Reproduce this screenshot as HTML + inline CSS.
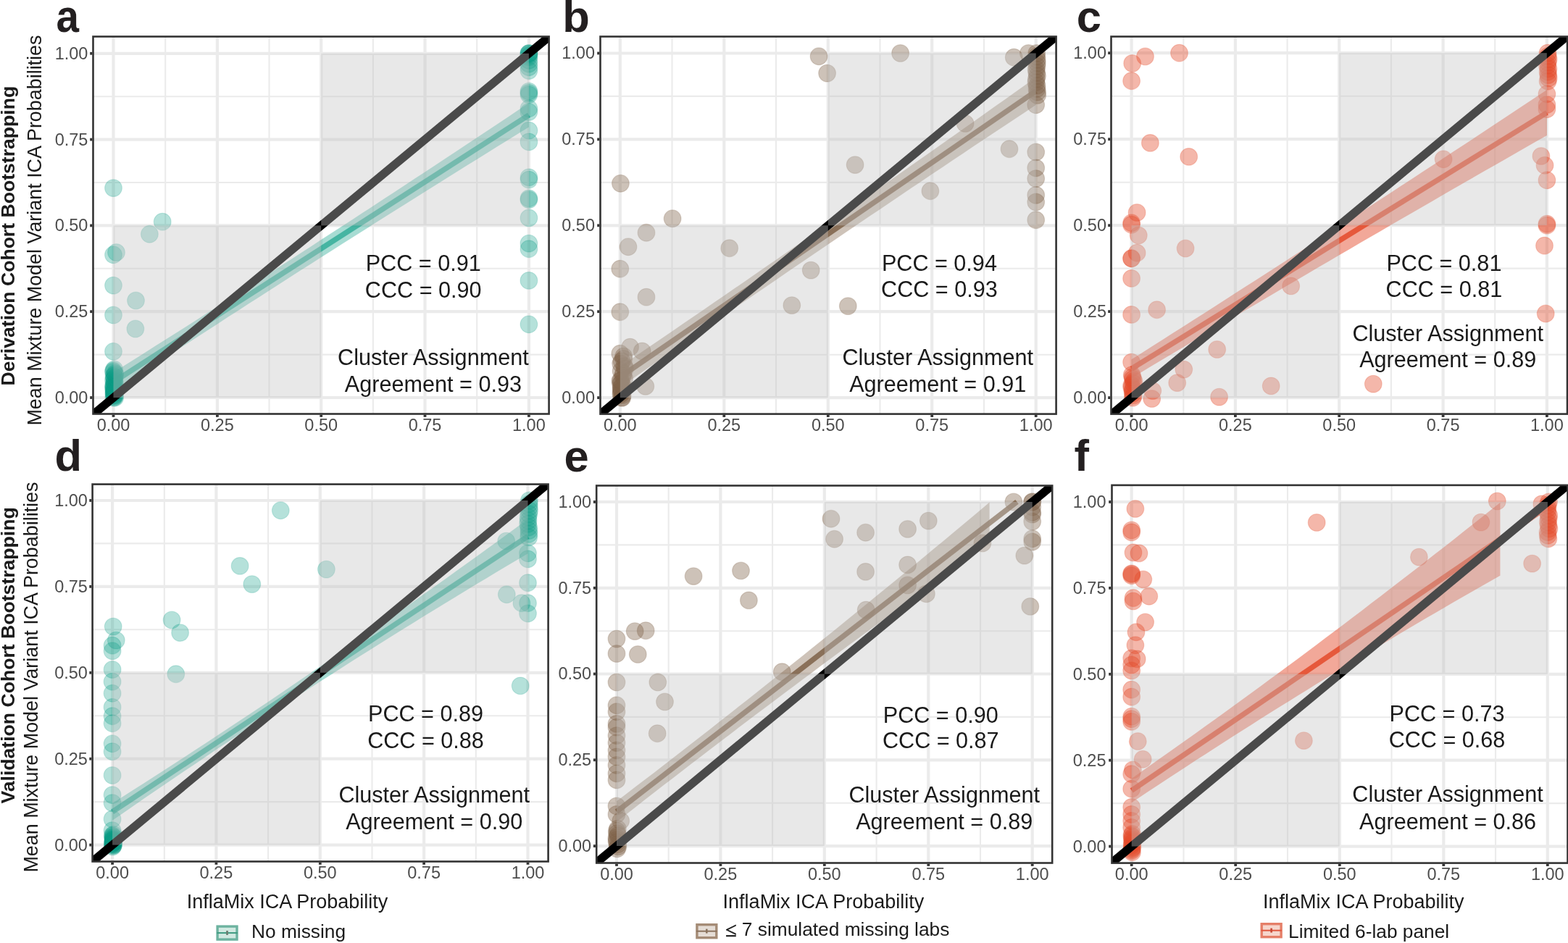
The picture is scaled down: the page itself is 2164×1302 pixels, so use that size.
<!DOCTYPE html><html><head><meta charset="utf-8"><style>html,body{margin:0;padding:0;background:#fff;overflow:hidden;}svg{display:block;}text{font-family:"Liberation Sans",Arial,Helvetica,sans-serif;}</style></head><body>
<svg width="2164" height="1302" viewBox="0 0 2164 1302">
<rect width="100%" height="100%" fill="#fff"/>
<defs>
<clipPath id="cpa"><rect x="128.5" y="50.5" width="629.1" height="521.0"/></clipPath>
<clipPath id="cpb"><rect x="828.5" y="50.5" width="629.0999999999999" height="521.1"/></clipPath>
<clipPath id="cpc"><rect x="1533.5" y="50.5" width="629.5" height="521.1"/></clipPath>
<clipPath id="cpd"><rect x="127.6" y="668.6" width="629.0" height="520.9"/></clipPath>
<clipPath id="cpe"><rect x="823.2" y="670.5" width="629.0" height="521.0"/></clipPath>
<clipPath id="cpf"><rect x="1534.5" y="669.9" width="629.0" height="521.6999999999999"/></clipPath>
</defs>
<g clip-path="url(#cpa)">
<line x1="128.5" x2="757.6" y1="489.6" y2="489.6" stroke="#EBEBEB" stroke-width="2.1"/>
<line y1="50.5" y2="571.5" x1="228.2" x2="228.2" stroke="#EBEBEB" stroke-width="2.1"/>
<line x1="128.5" x2="757.6" y1="370.8" y2="370.8" stroke="#EBEBEB" stroke-width="2.1"/>
<line y1="50.5" y2="571.5" x1="371.5" x2="371.5" stroke="#EBEBEB" stroke-width="2.1"/>
<line x1="128.5" x2="757.6" y1="252.0" y2="252.0" stroke="#EBEBEB" stroke-width="2.1"/>
<line y1="50.5" y2="571.5" x1="514.9" x2="514.9" stroke="#EBEBEB" stroke-width="2.1"/>
<line x1="128.5" x2="757.6" y1="133.2" y2="133.2" stroke="#EBEBEB" stroke-width="2.1"/>
<line y1="50.5" y2="571.5" x1="658.2" x2="658.2" stroke="#EBEBEB" stroke-width="2.1"/>
<line x1="128.5" x2="757.6" y1="549.0" y2="549.0" stroke="#EBEBEB" stroke-width="4.2"/>
<line y1="50.5" y2="571.5" x1="156.5" x2="156.5" stroke="#EBEBEB" stroke-width="4.2"/>
<line x1="128.5" x2="757.6" y1="430.2" y2="430.2" stroke="#EBEBEB" stroke-width="4.2"/>
<line y1="50.5" y2="571.5" x1="299.9" x2="299.9" stroke="#EBEBEB" stroke-width="4.2"/>
<line x1="128.5" x2="757.6" y1="311.4" y2="311.4" stroke="#EBEBEB" stroke-width="4.2"/>
<line y1="50.5" y2="571.5" x1="443.2" x2="443.2" stroke="#EBEBEB" stroke-width="4.2"/>
<line x1="128.5" x2="757.6" y1="192.6" y2="192.6" stroke="#EBEBEB" stroke-width="4.2"/>
<line y1="50.5" y2="571.5" x1="586.5" x2="586.5" stroke="#EBEBEB" stroke-width="4.2"/>
<line x1="128.5" x2="757.6" y1="73.8" y2="73.8" stroke="#EBEBEB" stroke-width="4.2"/>
<line y1="50.5" y2="571.5" x1="729.9" x2="729.9" stroke="#EBEBEB" stroke-width="4.2"/>
<g fill="#0A9D84" fill-opacity="0.3" stroke="#0A9D84" stroke-opacity="0.180" stroke-width="1.2">
<circle cx="156.5" cy="259.6" r="11.85"/>
<circle cx="156.5" cy="351.8" r="11.85"/>
<circle cx="156.5" cy="394.1" r="11.85"/>
<circle cx="156.5" cy="435.0" r="11.85"/>
<circle cx="156.5" cy="485.3" r="11.85"/>
<circle cx="160.5" cy="348.5" r="11.85"/>
<circle cx="156.8" cy="549.0" r="11.85"/>
<circle cx="158.4" cy="547.1" r="11.85"/>
<circle cx="158.3" cy="545.3" r="11.85"/>
<circle cx="157.1" cy="543.4" r="11.85"/>
<circle cx="157.6" cy="541.6" r="11.85"/>
<circle cx="157.5" cy="539.7" r="11.85"/>
<circle cx="158.0" cy="537.9" r="11.85"/>
<circle cx="158.3" cy="536.0" r="11.85"/>
<circle cx="156.7" cy="534.2" r="11.85"/>
<circle cx="156.6" cy="532.3" r="11.85"/>
<circle cx="158.4" cy="530.4" r="11.85"/>
<circle cx="157.5" cy="528.6" r="11.85"/>
<circle cx="158.2" cy="526.7" r="11.85"/>
<circle cx="156.5" cy="524.9" r="11.85"/>
<circle cx="157.5" cy="523.0" r="11.85"/>
<circle cx="158.2" cy="521.2" r="11.85"/>
<circle cx="157.0" cy="519.3" r="11.85"/>
<circle cx="158.7" cy="517.5" r="11.85"/>
<circle cx="158.6" cy="515.6" r="11.85"/>
<circle cx="156.6" cy="513.7" r="11.85"/>
<circle cx="156.6" cy="511.9" r="11.85"/>
<circle cx="157.7" cy="510.0" r="11.85"/>
<circle cx="158.7" cy="549.0" r="11.85"/>
<circle cx="157.4" cy="546.1" r="11.85"/>
<circle cx="157.0" cy="543.3" r="11.85"/>
<circle cx="157.5" cy="540.4" r="11.85"/>
<circle cx="156.6" cy="537.6" r="11.85"/>
<circle cx="157.0" cy="534.7" r="11.85"/>
<circle cx="224.2" cy="306.2" r="11.85"/>
<circle cx="206.4" cy="323.3" r="11.85"/>
<circle cx="187.5" cy="415.0" r="11.85"/>
<circle cx="186.9" cy="454.0" r="11.85"/>
<circle cx="729.9" cy="73.8" r="11.85"/>
<circle cx="729.9" cy="73.8" r="11.85"/>
<circle cx="729.9" cy="73.8" r="11.85"/>
<circle cx="729.9" cy="76.2" r="11.85"/>
<circle cx="729.9" cy="78.6" r="11.85"/>
<circle cx="729.9" cy="83.3" r="11.85"/>
<circle cx="729.9" cy="88.1" r="11.85"/>
<circle cx="729.9" cy="92.8" r="11.85"/>
<circle cx="729.9" cy="97.6" r="11.85"/>
<circle cx="729.9" cy="126.1" r="11.85"/>
<circle cx="729.9" cy="128.4" r="11.85"/>
<circle cx="729.9" cy="130.8" r="11.85"/>
<circle cx="729.9" cy="149.8" r="11.85"/>
<circle cx="729.9" cy="154.6" r="11.85"/>
<circle cx="729.9" cy="180.2" r="11.85"/>
<circle cx="729.9" cy="195.9" r="11.85"/>
<circle cx="729.9" cy="244.9" r="11.85"/>
<circle cx="729.9" cy="248.2" r="11.85"/>
<circle cx="729.9" cy="273.9" r="11.85"/>
<circle cx="729.9" cy="275.8" r="11.85"/>
<circle cx="729.9" cy="300.9" r="11.85"/>
<circle cx="729.9" cy="336.1" r="11.85"/>
<circle cx="729.9" cy="343.7" r="11.85"/>
<circle cx="729.9" cy="387.4" r="11.85"/>
<circle cx="729.9" cy="447.8" r="11.85"/>
</g>
<path d="M156.5,514.3 L170.8,505.3 L185.2,496.3 L199.5,487.2 L213.8,478.1 L228.2,469.1 L242.5,460.0 L256.8,450.9 L271.2,441.7 L285.5,432.6 L299.9,423.4 L314.2,414.3 L328.5,405.1 L342.9,395.9 L357.2,386.7 L371.5,377.5 L385.9,368.2 L400.2,359.0 L414.5,349.7 L428.9,340.4 L443.2,331.1 L457.5,321.8 L471.9,312.5 L486.2,303.2 L500.5,293.8 L514.9,284.5 L529.2,275.1 L543.5,265.7 L557.9,256.3 L572.2,246.8 L586.5,237.4 L600.9,227.9 L615.2,218.5 L629.6,209.0 L643.9,199.5 L658.2,190.0 L672.6,180.5 L686.9,170.9 L701.2,161.4 L715.6,151.8 L729.9,142.2 L729.9,175.5 L715.6,184.3 L701.2,193.2 L686.9,202.1 L672.6,211.0 L658.2,219.9 L643.9,228.8 L629.6,237.8 L615.2,246.7 L600.9,255.7 L586.5,264.7 L572.2,273.7 L557.9,282.7 L543.5,291.7 L529.2,300.8 L514.9,309.8 L500.5,318.9 L486.2,328.0 L471.9,337.1 L457.5,346.2 L443.2,355.3 L428.9,364.5 L414.5,373.6 L400.2,382.8 L385.9,392.0 L371.5,401.2 L357.2,410.4 L342.9,419.6 L328.5,428.9 L314.2,438.1 L299.9,447.4 L285.5,456.7 L271.2,466.0 L256.8,475.3 L242.5,484.6 L228.2,494.0 L213.8,503.3 L199.5,512.7 L185.2,522.1 L170.8,531.5 L156.5,540.9Z" fill="#0A9D84" fill-opacity="0.36"/>
<line x1="156.5" y1="527.6" x2="729.9" y2="158.9" stroke="#0A9D84" stroke-opacity="0.62" stroke-width="7.3"/>
<line x1="99.2" y1="596.5" x2="787.2" y2="26.3" stroke="#000" stroke-width="11.5"/>
<rect x="156.5" y="311.4" width="286.7" height="237.6" fill="#C2C2C2" fill-opacity="0.38"/>
<rect x="443.2" y="73.8" width="286.7" height="237.6" fill="#C2C2C2" fill-opacity="0.38"/>
</g>
<g font-size="30.6" fill="#1A1A1A" text-anchor="middle">
<text x="584.2" y="373.9">PCC = 0.91</text>
<text x="584.2" y="411.0">CCC = 0.90</text>
<text x="597.9" y="503.7">Cluster Assignment</text>
<text x="597.9" y="540.8">Agreement = 0.93</text>
</g>
<rect x="128.5" y="50.5" width="629.1" height="521.0" fill="none" stroke="#333" stroke-width="2.6"/>
<line x1="156.5" x2="156.5" y1="572.8" y2="575.8" stroke="#333" stroke-width="3.8"/>
<line y1="549.0" y2="549.0" x1="124.2" x2="127.2" stroke="#333" stroke-width="3.8"/>
<line x1="299.9" x2="299.9" y1="572.8" y2="575.8" stroke="#333" stroke-width="3.8"/>
<line y1="430.2" y2="430.2" x1="124.2" x2="127.2" stroke="#333" stroke-width="3.8"/>
<line x1="443.2" x2="443.2" y1="572.8" y2="575.8" stroke="#333" stroke-width="3.8"/>
<line y1="311.4" y2="311.4" x1="124.2" x2="127.2" stroke="#333" stroke-width="3.8"/>
<line x1="586.5" x2="586.5" y1="572.8" y2="575.8" stroke="#333" stroke-width="3.8"/>
<line y1="192.6" y2="192.6" x1="124.2" x2="127.2" stroke="#333" stroke-width="3.8"/>
<line x1="729.9" x2="729.9" y1="572.8" y2="575.8" stroke="#333" stroke-width="3.8"/>
<line y1="73.8" y2="73.8" x1="124.2" x2="127.2" stroke="#333" stroke-width="3.8"/>
<g font-size="23.5" fill="#4D4D4D">
<text x="156.5" y="594.7" text-anchor="middle">0.00</text>
<text x="121.4" y="556.9" text-anchor="end">0.00</text>
<text x="299.9" y="594.7" text-anchor="middle">0.25</text>
<text x="121.4" y="438.1" text-anchor="end">0.25</text>
<text x="443.2" y="594.7" text-anchor="middle">0.50</text>
<text x="121.4" y="319.3" text-anchor="end">0.50</text>
<text x="586.5" y="594.7" text-anchor="middle">0.75</text>
<text x="121.4" y="200.5" text-anchor="end">0.75</text>
<text x="729.9" y="594.7" text-anchor="middle">1.00</text>
<text x="121.4" y="81.7" text-anchor="end">1.00</text>
</g>
<text transform="translate(77.4,44.2) scale(0.92,1.02)" font-size="61.5" font-weight="bold" fill="#231F20">a</text>
<g clip-path="url(#cpb)">
<line x1="828.5" x2="1457.6" y1="489.7" y2="489.7" stroke="#EBEBEB" stroke-width="2.1"/>
<line y1="50.5" y2="571.6" x1="927.5" x2="927.5" stroke="#EBEBEB" stroke-width="2.1"/>
<line x1="828.5" x2="1457.6" y1="370.8" y2="370.8" stroke="#EBEBEB" stroke-width="2.1"/>
<line y1="50.5" y2="571.6" x1="1071.0" x2="1071.0" stroke="#EBEBEB" stroke-width="2.1"/>
<line x1="828.5" x2="1457.6" y1="251.9" y2="251.9" stroke="#EBEBEB" stroke-width="2.1"/>
<line y1="50.5" y2="571.6" x1="1214.5" x2="1214.5" stroke="#EBEBEB" stroke-width="2.1"/>
<line x1="828.5" x2="1457.6" y1="132.9" y2="132.9" stroke="#EBEBEB" stroke-width="2.1"/>
<line y1="50.5" y2="571.6" x1="1358.0" x2="1358.0" stroke="#EBEBEB" stroke-width="2.1"/>
<line x1="828.5" x2="1457.6" y1="549.1" y2="549.1" stroke="#EBEBEB" stroke-width="4.2"/>
<line y1="50.5" y2="571.6" x1="855.8" x2="855.8" stroke="#EBEBEB" stroke-width="4.2"/>
<line x1="828.5" x2="1457.6" y1="430.2" y2="430.2" stroke="#EBEBEB" stroke-width="4.2"/>
<line y1="50.5" y2="571.6" x1="999.3" x2="999.3" stroke="#EBEBEB" stroke-width="4.2"/>
<line x1="828.5" x2="1457.6" y1="311.3" y2="311.3" stroke="#EBEBEB" stroke-width="4.2"/>
<line y1="50.5" y2="571.6" x1="1142.8" x2="1142.8" stroke="#EBEBEB" stroke-width="4.2"/>
<line x1="828.5" x2="1457.6" y1="192.4" y2="192.4" stroke="#EBEBEB" stroke-width="4.2"/>
<line y1="50.5" y2="571.6" x1="1286.2" x2="1286.2" stroke="#EBEBEB" stroke-width="4.2"/>
<line x1="828.5" x2="1457.6" y1="73.5" y2="73.5" stroke="#EBEBEB" stroke-width="4.2"/>
<line y1="50.5" y2="571.6" x1="1429.7" x2="1429.7" stroke="#EBEBEB" stroke-width="4.2"/>
<g fill="#7E6148" fill-opacity="0.39" stroke="#7E6148" stroke-opacity="0.234" stroke-width="1.2">
<circle cx="858.8" cy="549.1" r="11.85"/>
<circle cx="859.2" cy="545.7" r="11.85"/>
<circle cx="857.4" cy="542.4" r="11.85"/>
<circle cx="857.4" cy="539.0" r="11.85"/>
<circle cx="857.3" cy="535.7" r="11.85"/>
<circle cx="859.0" cy="532.3" r="11.85"/>
<circle cx="857.8" cy="529.0" r="11.85"/>
<circle cx="855.9" cy="525.6" r="11.85"/>
<circle cx="861.6" cy="522.2" r="11.85"/>
<circle cx="859.6" cy="518.9" r="11.85"/>
<circle cx="860.2" cy="515.5" r="11.85"/>
<circle cx="857.1" cy="512.2" r="11.85"/>
<circle cx="862.6" cy="508.8" r="11.85"/>
<circle cx="861.7" cy="505.5" r="11.85"/>
<circle cx="856.6" cy="502.1" r="11.85"/>
<circle cx="858.1" cy="498.7" r="11.85"/>
<circle cx="860.8" cy="495.4" r="11.85"/>
<circle cx="860.7" cy="492.0" r="11.85"/>
<circle cx="857.9" cy="549.1" r="11.85"/>
<circle cx="856.8" cy="544.3" r="11.85"/>
<circle cx="857.7" cy="539.6" r="11.85"/>
<circle cx="857.3" cy="534.8" r="11.85"/>
<circle cx="856.5" cy="530.1" r="11.85"/>
<circle cx="857.1" cy="525.3" r="11.85"/>
<circle cx="855.8" cy="371.2" r="11.85"/>
<circle cx="855.8" cy="430.7" r="11.85"/>
<circle cx="855.8" cy="488.2" r="11.85"/>
<circle cx="856.4" cy="253.3" r="11.85"/>
<circle cx="928.1" cy="301.8" r="11.85"/>
<circle cx="892.0" cy="321.3" r="11.85"/>
<circle cx="867.0" cy="340.8" r="11.85"/>
<circle cx="892.0" cy="410.2" r="11.85"/>
<circle cx="1006.7" cy="342.7" r="11.85"/>
<circle cx="1119.2" cy="373.1" r="11.85"/>
<circle cx="1092.8" cy="421.6" r="11.85"/>
<circle cx="869.6" cy="479.2" r="11.85"/>
<circle cx="886.2" cy="484.9" r="11.85"/>
<circle cx="890.8" cy="533.4" r="11.85"/>
<circle cx="1170.3" cy="422.6" r="11.85"/>
<circle cx="1130.1" cy="77.8" r="11.85"/>
<circle cx="1141.6" cy="101.1" r="11.85"/>
<circle cx="1242.6" cy="73.5" r="11.85"/>
<circle cx="1399.3" cy="79.2" r="11.85"/>
<circle cx="1419.4" cy="73.5" r="11.85"/>
<circle cx="1332.1" cy="170.5" r="11.85"/>
<circle cx="1393.0" cy="205.7" r="11.85"/>
<circle cx="1180.1" cy="227.6" r="11.85"/>
<circle cx="1283.9" cy="263.7" r="11.85"/>
<circle cx="1431.7" cy="131.5" r="11.85"/>
<circle cx="1431.6" cy="127.1" r="11.85"/>
<circle cx="1430.9" cy="122.6" r="11.85"/>
<circle cx="1431.1" cy="118.1" r="11.85"/>
<circle cx="1429.8" cy="113.7" r="11.85"/>
<circle cx="1430.3" cy="109.2" r="11.85"/>
<circle cx="1431.5" cy="104.7" r="11.85"/>
<circle cx="1430.7" cy="100.3" r="11.85"/>
<circle cx="1430.1" cy="95.8" r="11.85"/>
<circle cx="1431.0" cy="91.4" r="11.85"/>
<circle cx="1431.3" cy="86.9" r="11.85"/>
<circle cx="1431.2" cy="82.4" r="11.85"/>
<circle cx="1430.6" cy="78.0" r="11.85"/>
<circle cx="1430.7" cy="73.5" r="11.85"/>
<circle cx="1429.7" cy="144.8" r="11.85"/>
<circle cx="1429.7" cy="210.0" r="11.85"/>
<circle cx="1429.7" cy="231.9" r="11.85"/>
<circle cx="1429.7" cy="246.6" r="11.85"/>
<circle cx="1429.7" cy="269.4" r="11.85"/>
<circle cx="1429.7" cy="279.0" r="11.85"/>
<circle cx="1429.7" cy="303.7" r="11.85"/>
</g>
<path d="M855.8,506.3 L870.1,496.5 L884.5,486.8 L898.8,477.0 L913.2,467.2 L927.5,457.4 L941.9,447.6 L956.2,437.8 L970.6,427.9 L984.9,418.1 L999.3,408.2 L1013.6,398.3 L1028.0,388.4 L1042.3,378.5 L1056.7,368.6 L1071.0,358.7 L1085.4,348.8 L1099.7,338.8 L1114.1,328.9 L1128.4,318.9 L1142.8,308.9 L1157.1,298.9 L1171.4,288.9 L1185.8,278.9 L1200.1,268.9 L1214.5,258.8 L1228.8,248.8 L1243.2,238.7 L1257.5,228.6 L1271.9,218.6 L1286.2,208.5 L1300.6,198.3 L1314.9,188.2 L1329.3,178.1 L1343.6,167.9 L1358.0,157.8 L1372.3,147.6 L1386.7,137.4 L1401.0,127.2 L1415.4,117.0 L1429.7,106.8 L1429.7,144.8 L1415.4,154.4 L1401.0,163.9 L1386.7,173.4 L1372.3,183.0 L1358.0,192.5 L1343.6,202.1 L1329.3,211.7 L1314.9,221.3 L1300.6,230.9 L1286.2,240.6 L1271.9,250.2 L1257.5,259.8 L1243.2,269.5 L1228.8,279.2 L1214.5,288.9 L1200.1,298.6 L1185.8,308.3 L1171.4,318.0 L1157.1,327.7 L1142.8,337.5 L1128.4,347.2 L1114.1,357.0 L1099.7,366.8 L1085.4,376.6 L1071.0,386.4 L1056.7,396.2 L1042.3,406.0 L1028.0,415.8 L1013.6,425.7 L999.3,435.6 L984.9,445.4 L970.6,455.3 L956.2,465.2 L941.9,475.1 L927.5,485.0 L913.2,495.0 L898.8,504.9 L884.5,514.9 L870.1,524.9 L855.8,534.8Z" fill="#7E6148" fill-opacity="0.38"/>
<line x1="855.8" y1="520.6" x2="1429.7" y2="125.8" stroke="#7E6148" stroke-opacity="0.85" stroke-width="7.3"/>
<line x1="798.4" y1="596.7" x2="1487.1" y2="25.9" stroke="#000" stroke-width="11.5"/>
<rect x="855.8" y="311.3" width="287.0" height="237.8" fill="#C2C2C2" fill-opacity="0.38"/>
<rect x="1142.8" y="73.5" width="286.9" height="237.8" fill="#C2C2C2" fill-opacity="0.38"/>
</g>
<g font-size="30.6" fill="#1A1A1A" text-anchor="middle">
<text x="1296.4" y="374.4">PCC = 0.94</text>
<text x="1296.4" y="409.8">CCC = 0.93</text>
<text x="1294.2" y="503.8">Cluster Assignment</text>
<text x="1294.2" y="540.8">Agreement = 0.91</text>
</g>
<rect x="828.5" y="50.5" width="629.1" height="521.1" fill="none" stroke="#333" stroke-width="2.6"/>
<line x1="855.8" x2="855.8" y1="572.9" y2="575.9" stroke="#333" stroke-width="3.8"/>
<line y1="549.1" y2="549.1" x1="824.2" x2="827.2" stroke="#333" stroke-width="3.8"/>
<line x1="999.3" x2="999.3" y1="572.9" y2="575.9" stroke="#333" stroke-width="3.8"/>
<line y1="430.2" y2="430.2" x1="824.2" x2="827.2" stroke="#333" stroke-width="3.8"/>
<line x1="1142.8" x2="1142.8" y1="572.9" y2="575.9" stroke="#333" stroke-width="3.8"/>
<line y1="311.3" y2="311.3" x1="824.2" x2="827.2" stroke="#333" stroke-width="3.8"/>
<line x1="1286.2" x2="1286.2" y1="572.9" y2="575.9" stroke="#333" stroke-width="3.8"/>
<line y1="192.4" y2="192.4" x1="824.2" x2="827.2" stroke="#333" stroke-width="3.8"/>
<line x1="1429.7" x2="1429.7" y1="572.9" y2="575.9" stroke="#333" stroke-width="3.8"/>
<line y1="73.5" y2="73.5" x1="824.2" x2="827.2" stroke="#333" stroke-width="3.8"/>
<g font-size="23.5" fill="#4D4D4D">
<text x="855.8" y="594.8" text-anchor="middle">0.00</text>
<text x="821.0" y="557.0" text-anchor="end">0.00</text>
<text x="999.3" y="594.8" text-anchor="middle">0.25</text>
<text x="821.0" y="438.1" text-anchor="end">0.25</text>
<text x="1142.8" y="594.8" text-anchor="middle">0.50</text>
<text x="821.0" y="319.2" text-anchor="end">0.50</text>
<text x="1286.2" y="594.8" text-anchor="middle">0.75</text>
<text x="821.0" y="200.3" text-anchor="end">0.75</text>
<text x="1429.7" y="594.8" text-anchor="middle">1.00</text>
<text x="821.0" y="81.4" text-anchor="end">1.00</text>
</g>
<text x="776.2" y="44.3" font-size="61.5" font-weight="bold" fill="#231F20">b</text>
<g clip-path="url(#cpc)">
<line x1="1533.5" x2="2163.0" y1="489.6" y2="489.6" stroke="#EBEBEB" stroke-width="2.1"/>
<line y1="50.5" y2="571.6" x1="1633.3" x2="1633.3" stroke="#EBEBEB" stroke-width="2.1"/>
<line x1="1533.5" x2="2163.0" y1="370.6" y2="370.6" stroke="#EBEBEB" stroke-width="2.1"/>
<line y1="50.5" y2="571.6" x1="1776.6" x2="1776.6" stroke="#EBEBEB" stroke-width="2.1"/>
<line x1="1533.5" x2="2163.0" y1="251.7" y2="251.7" stroke="#EBEBEB" stroke-width="2.1"/>
<line y1="50.5" y2="571.6" x1="1919.9" x2="1919.9" stroke="#EBEBEB" stroke-width="2.1"/>
<line x1="1533.5" x2="2163.0" y1="132.7" y2="132.7" stroke="#EBEBEB" stroke-width="2.1"/>
<line y1="50.5" y2="571.6" x1="2063.2" x2="2063.2" stroke="#EBEBEB" stroke-width="2.1"/>
<line x1="1533.5" x2="2163.0" y1="549.1" y2="549.1" stroke="#EBEBEB" stroke-width="4.2"/>
<line y1="50.5" y2="571.6" x1="1561.6" x2="1561.6" stroke="#EBEBEB" stroke-width="4.2"/>
<line x1="1533.5" x2="2163.0" y1="430.1" y2="430.1" stroke="#EBEBEB" stroke-width="4.2"/>
<line y1="50.5" y2="571.6" x1="1704.9" x2="1704.9" stroke="#EBEBEB" stroke-width="4.2"/>
<line x1="1533.5" x2="2163.0" y1="311.2" y2="311.2" stroke="#EBEBEB" stroke-width="4.2"/>
<line y1="50.5" y2="571.6" x1="1848.2" x2="1848.2" stroke="#EBEBEB" stroke-width="4.2"/>
<line x1="1533.5" x2="2163.0" y1="192.2" y2="192.2" stroke="#EBEBEB" stroke-width="4.2"/>
<line y1="50.5" y2="571.6" x1="1991.6" x2="1991.6" stroke="#EBEBEB" stroke-width="4.2"/>
<line x1="1533.5" x2="2163.0" y1="73.2" y2="73.2" stroke="#EBEBEB" stroke-width="4.2"/>
<line y1="50.5" y2="571.6" x1="2134.9" x2="2134.9" stroke="#EBEBEB" stroke-width="4.2"/>
<g fill="#E44A2A" fill-opacity="0.4" stroke="#E44A2A" stroke-opacity="0.240" stroke-width="1.2">
<circle cx="1562.7" cy="87.5" r="11.85"/>
<circle cx="1561.6" cy="111.7" r="11.85"/>
<circle cx="1561.6" cy="307.8" r="11.85"/>
<circle cx="1561.6" cy="310.2" r="11.85"/>
<circle cx="1569.1" cy="293.5" r="11.85"/>
<circle cx="1571.3" cy="325.0" r="11.85"/>
<circle cx="1569.1" cy="349.2" r="11.85"/>
<circle cx="1561.6" cy="356.8" r="11.85"/>
<circle cx="1561.6" cy="356.8" r="11.85"/>
<circle cx="1561.6" cy="384.4" r="11.85"/>
<circle cx="1561.6" cy="434.4" r="11.85"/>
<circle cx="1561.6" cy="500.1" r="11.85"/>
<circle cx="1563.3" cy="549.1" r="11.85"/>
<circle cx="1564.3" cy="546.2" r="11.85"/>
<circle cx="1563.4" cy="543.4" r="11.85"/>
<circle cx="1563.0" cy="540.5" r="11.85"/>
<circle cx="1563.3" cy="537.7" r="11.85"/>
<circle cx="1561.7" cy="534.8" r="11.85"/>
<circle cx="1561.7" cy="532.0" r="11.85"/>
<circle cx="1564.0" cy="529.1" r="11.85"/>
<circle cx="1565.0" cy="526.3" r="11.85"/>
<circle cx="1563.6" cy="523.4" r="11.85"/>
<circle cx="1563.0" cy="520.5" r="11.85"/>
<circle cx="1562.2" cy="517.7" r="11.85"/>
<circle cx="1580.5" cy="78.0" r="11.85"/>
<circle cx="1627.5" cy="73.2" r="11.85"/>
<circle cx="1587.4" cy="197.4" r="11.85"/>
<circle cx="1640.7" cy="216.4" r="11.85"/>
<circle cx="1596.6" cy="427.7" r="11.85"/>
<circle cx="1636.1" cy="343.0" r="11.85"/>
<circle cx="1781.7" cy="394.9" r="11.85"/>
<circle cx="1679.7" cy="482.5" r="11.85"/>
<circle cx="1633.8" cy="510.1" r="11.85"/>
<circle cx="1624.7" cy="528.6" r="11.85"/>
<circle cx="1682.6" cy="548.1" r="11.85"/>
<circle cx="1754.2" cy="532.9" r="11.85"/>
<circle cx="1590.8" cy="539.6" r="11.85"/>
<circle cx="1589.7" cy="550.5" r="11.85"/>
<circle cx="1895.3" cy="530.1" r="11.85"/>
<circle cx="1992.1" cy="219.8" r="11.85"/>
<circle cx="2136.1" cy="112.2" r="11.85"/>
<circle cx="2137.2" cy="107.9" r="11.85"/>
<circle cx="2136.7" cy="103.6" r="11.85"/>
<circle cx="2136.1" cy="99.2" r="11.85"/>
<circle cx="2136.9" cy="94.9" r="11.85"/>
<circle cx="2135.4" cy="90.5" r="11.85"/>
<circle cx="2136.1" cy="86.2" r="11.85"/>
<circle cx="2137.1" cy="81.9" r="11.85"/>
<circle cx="2136.2" cy="77.5" r="11.85"/>
<circle cx="2136.0" cy="73.2" r="11.85"/>
<circle cx="2134.9" cy="129.8" r="11.85"/>
<circle cx="2134.9" cy="144.6" r="11.85"/>
<circle cx="2134.9" cy="150.8" r="11.85"/>
<circle cx="2126.9" cy="215.5" r="11.85"/>
<circle cx="2132.0" cy="228.3" r="11.85"/>
<circle cx="2134.9" cy="248.8" r="11.85"/>
<circle cx="2134.9" cy="309.2" r="11.85"/>
<circle cx="2134.9" cy="311.2" r="11.85"/>
<circle cx="2131.5" cy="339.2" r="11.85"/>
<circle cx="2133.2" cy="433.0" r="11.85"/>
</g>
<path d="M1561.6,496.3 L1575.9,487.2 L1590.3,478.1 L1604.6,469.0 L1618.9,459.8 L1633.3,450.7 L1647.6,441.5 L1661.9,432.4 L1676.3,423.2 L1690.6,414.0 L1704.9,404.8 L1719.3,395.6 L1733.6,386.4 L1747.9,377.2 L1762.3,368.0 L1776.6,358.7 L1790.9,349.5 L1805.3,340.2 L1819.6,330.9 L1833.9,321.6 L1848.2,312.3 L1862.6,303.0 L1876.9,293.7 L1891.2,284.4 L1905.6,275.0 L1919.9,265.7 L1934.2,256.3 L1948.6,247.0 L1962.9,237.6 L1977.2,228.2 L1991.6,218.8 L2005.9,209.3 L2020.2,199.9 L2034.6,190.5 L2048.9,181.0 L2063.2,171.6 L2077.6,162.1 L2091.9,152.6 L2106.2,143.1 L2120.6,133.6 L2134.9,124.1 L2134.9,186.9 L2120.6,195.1 L2106.2,203.3 L2091.9,211.5 L2077.6,219.7 L2063.2,227.9 L2048.9,236.1 L2034.6,244.3 L2020.2,252.6 L2005.9,260.8 L1991.6,269.1 L1977.2,277.4 L1962.9,285.7 L1948.6,293.9 L1934.2,302.3 L1919.9,310.6 L1905.6,318.9 L1891.2,327.2 L1876.9,335.6 L1862.6,343.9 L1848.2,352.3 L1833.9,360.7 L1819.6,369.1 L1805.3,377.5 L1790.9,385.9 L1776.6,394.3 L1762.3,402.8 L1747.9,411.2 L1733.6,419.7 L1719.3,428.1 L1704.9,436.6 L1690.6,445.1 L1676.3,453.6 L1661.9,462.1 L1647.6,470.6 L1633.3,479.2 L1618.9,487.7 L1604.6,496.3 L1590.3,504.8 L1575.9,513.4 L1561.6,522.0Z" fill="#E44A2A" fill-opacity="0.48"/>
<line x1="1561.6" y1="509.1" x2="2134.9" y2="155.5" stroke="#E44A2A" stroke-opacity="0.85" stroke-width="7.3"/>
<line x1="1504.3" y1="596.7" x2="2192.2" y2="25.6" stroke="#000" stroke-width="11.5"/>
<rect x="1561.6" y="311.2" width="286.7" height="237.9" fill="#C2C2C2" fill-opacity="0.38"/>
<rect x="1848.2" y="73.2" width="286.6" height="237.9" fill="#C2C2C2" fill-opacity="0.38"/>
</g>
<g font-size="30.6" fill="#1A1A1A" text-anchor="middle">
<text x="1992.9" y="373.5">PCC = 0.81</text>
<text x="1992.9" y="409.8">CCC = 0.81</text>
<text x="1998.2" y="470.7">Cluster Assignment</text>
<text x="1998.2" y="507.0">Agreement = 0.89</text>
</g>
<rect x="1533.5" y="50.5" width="629.5" height="521.1" fill="none" stroke="#333" stroke-width="2.6"/>
<line x1="1561.6" x2="1561.6" y1="572.9" y2="575.9" stroke="#333" stroke-width="3.8"/>
<line y1="549.1" y2="549.1" x1="1529.2" x2="1532.2" stroke="#333" stroke-width="3.8"/>
<line x1="1704.9" x2="1704.9" y1="572.9" y2="575.9" stroke="#333" stroke-width="3.8"/>
<line y1="430.1" y2="430.1" x1="1529.2" x2="1532.2" stroke="#333" stroke-width="3.8"/>
<line x1="1848.2" x2="1848.2" y1="572.9" y2="575.9" stroke="#333" stroke-width="3.8"/>
<line y1="311.2" y2="311.2" x1="1529.2" x2="1532.2" stroke="#333" stroke-width="3.8"/>
<line x1="1991.6" x2="1991.6" y1="572.9" y2="575.9" stroke="#333" stroke-width="3.8"/>
<line y1="192.2" y2="192.2" x1="1529.2" x2="1532.2" stroke="#333" stroke-width="3.8"/>
<line x1="2134.9" x2="2134.9" y1="572.9" y2="575.9" stroke="#333" stroke-width="3.8"/>
<line y1="73.2" y2="73.2" x1="1529.2" x2="1532.2" stroke="#333" stroke-width="3.8"/>
<g font-size="23.5" fill="#4D4D4D">
<text x="1561.6" y="594.8" text-anchor="middle">0.00</text>
<text x="1527.0" y="557.0" text-anchor="end">0.00</text>
<text x="1704.9" y="594.8" text-anchor="middle">0.25</text>
<text x="1527.0" y="438.0" text-anchor="end">0.25</text>
<text x="1848.2" y="594.8" text-anchor="middle">0.50</text>
<text x="1527.0" y="319.1" text-anchor="end">0.50</text>
<text x="1991.6" y="594.8" text-anchor="middle">0.75</text>
<text x="1527.0" y="200.1" text-anchor="end">0.75</text>
<text x="2134.9" y="594.8" text-anchor="middle">1.00</text>
<text x="1527.0" y="81.1" text-anchor="end">1.00</text>
</g>
<text x="1485.8" y="44.3" font-size="61.5" font-weight="bold" fill="#231F20">c</text>
<g clip-path="url(#cpd)">
<line x1="127.6" x2="756.6" y1="1107.1" y2="1107.1" stroke="#EBEBEB" stroke-width="2.1"/>
<line y1="668.6" y2="1189.5" x1="226.8" x2="226.8" stroke="#EBEBEB" stroke-width="2.1"/>
<line x1="127.6" x2="756.6" y1="988.2" y2="988.2" stroke="#EBEBEB" stroke-width="2.1"/>
<line y1="668.6" y2="1189.5" x1="370.1" x2="370.1" stroke="#EBEBEB" stroke-width="2.1"/>
<line x1="127.6" x2="756.6" y1="869.3" y2="869.3" stroke="#EBEBEB" stroke-width="2.1"/>
<line y1="668.6" y2="1189.5" x1="513.5" x2="513.5" stroke="#EBEBEB" stroke-width="2.1"/>
<line x1="127.6" x2="756.6" y1="750.4" y2="750.4" stroke="#EBEBEB" stroke-width="2.1"/>
<line y1="668.6" y2="1189.5" x1="656.8" x2="656.8" stroke="#EBEBEB" stroke-width="2.1"/>
<line x1="127.6" x2="756.6" y1="1166.6" y2="1166.6" stroke="#EBEBEB" stroke-width="4.2"/>
<line y1="668.6" y2="1189.5" x1="155.1" x2="155.1" stroke="#EBEBEB" stroke-width="4.2"/>
<line x1="127.6" x2="756.6" y1="1047.7" y2="1047.7" stroke="#EBEBEB" stroke-width="4.2"/>
<line y1="668.6" y2="1189.5" x1="298.4" x2="298.4" stroke="#EBEBEB" stroke-width="4.2"/>
<line x1="127.6" x2="756.6" y1="928.8" y2="928.8" stroke="#EBEBEB" stroke-width="4.2"/>
<line y1="668.6" y2="1189.5" x1="441.8" x2="441.8" stroke="#EBEBEB" stroke-width="4.2"/>
<line x1="127.6" x2="756.6" y1="809.9" y2="809.9" stroke="#EBEBEB" stroke-width="4.2"/>
<line y1="668.6" y2="1189.5" x1="585.1" x2="585.1" stroke="#EBEBEB" stroke-width="4.2"/>
<line x1="127.6" x2="756.6" y1="691.0" y2="691.0" stroke="#EBEBEB" stroke-width="4.2"/>
<line y1="668.6" y2="1189.5" x1="728.5" x2="728.5" stroke="#EBEBEB" stroke-width="4.2"/>
<g fill="#0A9D84" fill-opacity="0.3" stroke="#0A9D84" stroke-opacity="0.180" stroke-width="1.2">
<circle cx="156.2" cy="865.1" r="11.85"/>
<circle cx="160.3" cy="884.1" r="11.85"/>
<circle cx="155.1" cy="891.2" r="11.85"/>
<circle cx="155.1" cy="898.8" r="11.85"/>
<circle cx="155.1" cy="924.5" r="11.85"/>
<circle cx="155.1" cy="941.2" r="11.85"/>
<circle cx="155.1" cy="957.3" r="11.85"/>
<circle cx="155.1" cy="976.4" r="11.85"/>
<circle cx="155.1" cy="988.7" r="11.85"/>
<circle cx="155.1" cy="998.7" r="11.85"/>
<circle cx="155.1" cy="1026.8" r="11.85"/>
<circle cx="155.1" cy="1037.7" r="11.85"/>
<circle cx="155.1" cy="1070.5" r="11.85"/>
<circle cx="155.1" cy="1097.6" r="11.85"/>
<circle cx="155.1" cy="1108.6" r="11.85"/>
<circle cx="155.1" cy="1130.9" r="11.85"/>
<circle cx="155.1" cy="1146.6" r="11.85"/>
<circle cx="155.6" cy="1169.0" r="11.85"/>
<circle cx="156.0" cy="1167.7" r="11.85"/>
<circle cx="156.7" cy="1166.4" r="11.85"/>
<circle cx="155.1" cy="1165.1" r="11.85"/>
<circle cx="156.4" cy="1163.9" r="11.85"/>
<circle cx="156.5" cy="1162.6" r="11.85"/>
<circle cx="156.6" cy="1161.3" r="11.85"/>
<circle cx="156.4" cy="1160.0" r="11.85"/>
<circle cx="156.5" cy="1158.7" r="11.85"/>
<circle cx="156.0" cy="1157.5" r="11.85"/>
<circle cx="156.1" cy="1156.2" r="11.85"/>
<circle cx="155.8" cy="1154.9" r="11.85"/>
<circle cx="155.2" cy="1153.6" r="11.85"/>
<circle cx="156.6" cy="1152.3" r="11.85"/>
<circle cx="156.4" cy="1166.6" r="11.85"/>
<circle cx="155.6" cy="1165.2" r="11.85"/>
<circle cx="156.3" cy="1163.7" r="11.85"/>
<circle cx="156.2" cy="1162.3" r="11.85"/>
<circle cx="155.9" cy="1160.9" r="11.85"/>
<circle cx="155.9" cy="1159.5" r="11.85"/>
<circle cx="387.3" cy="704.8" r="11.85"/>
<circle cx="331.1" cy="781.4" r="11.85"/>
<circle cx="347.8" cy="806.6" r="11.85"/>
<circle cx="450.4" cy="786.1" r="11.85"/>
<circle cx="237.1" cy="856.0" r="11.85"/>
<circle cx="248.6" cy="873.6" r="11.85"/>
<circle cx="242.8" cy="930.7" r="11.85"/>
<circle cx="718.2" cy="946.9" r="11.85"/>
<circle cx="698.7" cy="747.1" r="11.85"/>
<circle cx="699.3" cy="820.8" r="11.85"/>
<circle cx="719.9" cy="832.7" r="11.85"/>
<circle cx="729.7" cy="741.9" r="11.85"/>
<circle cx="729.9" cy="737.3" r="11.85"/>
<circle cx="729.9" cy="732.6" r="11.85"/>
<circle cx="729.6" cy="728.0" r="11.85"/>
<circle cx="728.6" cy="723.4" r="11.85"/>
<circle cx="729.0" cy="718.8" r="11.85"/>
<circle cx="728.9" cy="714.1" r="11.85"/>
<circle cx="729.8" cy="709.5" r="11.85"/>
<circle cx="730.5" cy="704.9" r="11.85"/>
<circle cx="730.3" cy="700.3" r="11.85"/>
<circle cx="730.3" cy="695.6" r="11.85"/>
<circle cx="730.4" cy="691.0" r="11.85"/>
<circle cx="728.5" cy="763.8" r="11.85"/>
<circle cx="728.5" cy="771.9" r="11.85"/>
<circle cx="728.5" cy="804.7" r="11.85"/>
<circle cx="728.5" cy="832.7" r="11.85"/>
<circle cx="728.5" cy="847.0" r="11.85"/>
</g>
<path d="M155.1,1109.1 L169.4,1100.0 L183.8,1090.8 L198.1,1081.7 L212.4,1072.5 L226.8,1063.3 L241.1,1054.0 L255.4,1044.7 L269.8,1035.3 L284.1,1026.0 L298.4,1016.5 L312.8,1007.1 L327.1,997.6 L341.5,988.1 L355.8,978.5 L370.1,968.9 L384.5,959.2 L398.8,949.6 L413.1,939.8 L427.5,930.1 L441.8,920.3 L456.1,910.5 L470.5,900.6 L484.8,890.7 L499.1,880.8 L513.5,870.8 L527.8,860.8 L542.1,850.7 L556.5,840.6 L570.8,830.5 L585.1,820.3 L599.5,810.1 L613.8,799.9 L628.2,789.6 L642.5,779.3 L656.8,769.0 L671.2,758.6 L685.5,748.2 L699.8,737.7 L714.2,727.2 L728.5,716.7 L728.5,764.2 L714.2,772.7 L699.8,781.3 L685.5,789.8 L671.2,798.4 L656.8,807.1 L642.5,815.7 L628.2,824.5 L613.8,833.2 L599.5,842.0 L585.1,850.8 L570.8,859.7 L556.5,868.6 L542.1,877.5 L527.8,886.5 L513.5,895.5 L499.1,904.5 L484.8,913.6 L470.5,922.8 L456.1,931.9 L441.8,941.1 L427.5,950.3 L413.1,959.6 L398.8,968.9 L384.5,978.3 L370.1,987.6 L355.8,997.1 L341.5,1006.5 L327.1,1016.0 L312.8,1025.5 L298.4,1035.1 L284.1,1044.7 L269.8,1054.4 L255.4,1064.0 L241.1,1073.8 L226.8,1083.5 L212.4,1093.3 L198.1,1103.1 L183.8,1113.0 L169.4,1122.9 L155.1,1132.8Z" fill="#0A9D84" fill-opacity="0.36"/>
<line x1="155.1" y1="1120.9" x2="728.5" y2="740.5" stroke="#0A9D84" stroke-opacity="0.62" stroke-width="7.3"/>
<line x1="97.8" y1="1214.2" x2="785.8" y2="643.4" stroke="#000" stroke-width="11.5"/>
<rect x="155.1" y="928.8" width="286.7" height="237.8" fill="#C2C2C2" fill-opacity="0.38"/>
<rect x="441.8" y="691.0" width="286.7" height="237.8" fill="#C2C2C2" fill-opacity="0.38"/>
</g>
<g font-size="30.6" fill="#1A1A1A" text-anchor="middle">
<text x="587.5" y="996.4">PCC = 0.89</text>
<text x="587.5" y="1032.8">CCC = 0.88</text>
<text x="599.2" y="1108.1">Cluster Assignment</text>
<text x="599.2" y="1145.1">Agreement = 0.90</text>
</g>
<rect x="127.6" y="668.6" width="629.0" height="520.9" fill="none" stroke="#333" stroke-width="2.6"/>
<line x1="155.1" x2="155.1" y1="1190.8" y2="1193.8" stroke="#333" stroke-width="3.8"/>
<line y1="1166.6" y2="1166.6" x1="123.3" x2="126.3" stroke="#333" stroke-width="3.8"/>
<line x1="298.4" x2="298.4" y1="1190.8" y2="1193.8" stroke="#333" stroke-width="3.8"/>
<line y1="1047.7" y2="1047.7" x1="123.3" x2="126.3" stroke="#333" stroke-width="3.8"/>
<line x1="441.8" x2="441.8" y1="1190.8" y2="1193.8" stroke="#333" stroke-width="3.8"/>
<line y1="928.8" y2="928.8" x1="123.3" x2="126.3" stroke="#333" stroke-width="3.8"/>
<line x1="585.1" x2="585.1" y1="1190.8" y2="1193.8" stroke="#333" stroke-width="3.8"/>
<line y1="809.9" y2="809.9" x1="123.3" x2="126.3" stroke="#333" stroke-width="3.8"/>
<line x1="728.5" x2="728.5" y1="1190.8" y2="1193.8" stroke="#333" stroke-width="3.8"/>
<line y1="691.0" y2="691.0" x1="123.3" x2="126.3" stroke="#333" stroke-width="3.8"/>
<g font-size="23.5" fill="#4D4D4D">
<text x="155.1" y="1212.7" text-anchor="middle">0.00</text>
<text x="120.9" y="1174.5" text-anchor="end">0.00</text>
<text x="298.4" y="1212.7" text-anchor="middle">0.25</text>
<text x="120.9" y="1055.6" text-anchor="end">0.25</text>
<text x="441.8" y="1212.7" text-anchor="middle">0.50</text>
<text x="120.9" y="936.7" text-anchor="end">0.50</text>
<text x="585.1" y="1212.7" text-anchor="middle">0.75</text>
<text x="120.9" y="817.8" text-anchor="end">0.75</text>
<text x="728.5" y="1212.7" text-anchor="middle">1.00</text>
<text x="120.9" y="698.9" text-anchor="end">1.00</text>
</g>
<text x="75.5" y="650.3" font-size="61.5" font-weight="bold" fill="#231F20">d</text>
<g clip-path="url(#cpe)">
<line x1="823.2" x2="1452.2" y1="1108.7" y2="1108.7" stroke="#EBEBEB" stroke-width="2.1"/>
<line y1="670.5" y2="1191.5" x1="922.7" x2="922.7" stroke="#EBEBEB" stroke-width="2.1"/>
<line x1="823.2" x2="1452.2" y1="989.9" y2="989.9" stroke="#EBEBEB" stroke-width="2.1"/>
<line y1="670.5" y2="1191.5" x1="1066.1" x2="1066.1" stroke="#EBEBEB" stroke-width="2.1"/>
<line x1="823.2" x2="1452.2" y1="871.2" y2="871.2" stroke="#EBEBEB" stroke-width="2.1"/>
<line y1="670.5" y2="1191.5" x1="1209.6" x2="1209.6" stroke="#EBEBEB" stroke-width="2.1"/>
<line x1="823.2" x2="1452.2" y1="752.4" y2="752.4" stroke="#EBEBEB" stroke-width="2.1"/>
<line y1="670.5" y2="1191.5" x1="1353.0" x2="1353.0" stroke="#EBEBEB" stroke-width="2.1"/>
<line x1="823.2" x2="1452.2" y1="1168.1" y2="1168.1" stroke="#EBEBEB" stroke-width="4.2"/>
<line y1="670.5" y2="1191.5" x1="851.0" x2="851.0" stroke="#EBEBEB" stroke-width="4.2"/>
<line x1="823.2" x2="1452.2" y1="1049.3" y2="1049.3" stroke="#EBEBEB" stroke-width="4.2"/>
<line y1="670.5" y2="1191.5" x1="994.4" x2="994.4" stroke="#EBEBEB" stroke-width="4.2"/>
<line x1="823.2" x2="1452.2" y1="930.5" y2="930.5" stroke="#EBEBEB" stroke-width="4.2"/>
<line y1="670.5" y2="1191.5" x1="1137.8" x2="1137.8" stroke="#EBEBEB" stroke-width="4.2"/>
<line x1="823.2" x2="1452.2" y1="811.8" y2="811.8" stroke="#EBEBEB" stroke-width="4.2"/>
<line y1="670.5" y2="1191.5" x1="1281.3" x2="1281.3" stroke="#EBEBEB" stroke-width="4.2"/>
<line x1="823.2" x2="1452.2" y1="693.0" y2="693.0" stroke="#EBEBEB" stroke-width="4.2"/>
<line y1="670.5" y2="1191.5" x1="1424.7" x2="1424.7" stroke="#EBEBEB" stroke-width="4.2"/>
<g fill="#7E6148" fill-opacity="0.39" stroke="#7E6148" stroke-opacity="0.234" stroke-width="1.2">
<circle cx="851.0" cy="882.1" r="11.85"/>
<circle cx="851.0" cy="902.5" r="11.85"/>
<circle cx="851.0" cy="942.0" r="11.85"/>
<circle cx="851.0" cy="973.8" r="11.85"/>
<circle cx="851.0" cy="982.8" r="11.85"/>
<circle cx="851.0" cy="999.4" r="11.85"/>
<circle cx="851.0" cy="1004.2" r="11.85"/>
<circle cx="851.0" cy="1015.6" r="11.85"/>
<circle cx="851.0" cy="1025.6" r="11.85"/>
<circle cx="851.0" cy="1036.0" r="11.85"/>
<circle cx="851.0" cy="1045.0" r="11.85"/>
<circle cx="851.0" cy="1056.5" r="11.85"/>
<circle cx="851.0" cy="1067.9" r="11.85"/>
<circle cx="851.0" cy="1076.9" r="11.85"/>
<circle cx="851.0" cy="1113.0" r="11.85"/>
<circle cx="851.0" cy="1124.4" r="11.85"/>
<circle cx="856.7" cy="1133.4" r="11.85"/>
<circle cx="851.6" cy="1171.9" r="11.85"/>
<circle cx="852.9" cy="1168.8" r="11.85"/>
<circle cx="852.5" cy="1165.8" r="11.85"/>
<circle cx="851.2" cy="1162.7" r="11.85"/>
<circle cx="851.0" cy="1159.7" r="11.85"/>
<circle cx="851.0" cy="1156.6" r="11.85"/>
<circle cx="852.7" cy="1153.5" r="11.85"/>
<circle cx="851.6" cy="1150.5" r="11.85"/>
<circle cx="851.3" cy="1147.4" r="11.85"/>
<circle cx="852.4" cy="1144.3" r="11.85"/>
<circle cx="957.1" cy="795.6" r="11.85"/>
<circle cx="1022.5" cy="788.0" r="11.85"/>
<circle cx="1033.4" cy="828.9" r="11.85"/>
<circle cx="876.2" cy="871.6" r="11.85"/>
<circle cx="891.2" cy="870.7" r="11.85"/>
<circle cx="880.3" cy="903.5" r="11.85"/>
<circle cx="907.8" cy="942.0" r="11.85"/>
<circle cx="917.5" cy="969.0" r="11.85"/>
<circle cx="907.2" cy="1012.7" r="11.85"/>
<circle cx="1079.3" cy="927.7" r="11.85"/>
<circle cx="1147.0" cy="716.3" r="11.85"/>
<circle cx="1151.6" cy="744.3" r="11.85"/>
<circle cx="1194.6" cy="735.3" r="11.85"/>
<circle cx="1194.6" cy="789.4" r="11.85"/>
<circle cx="1252.6" cy="730.5" r="11.85"/>
<circle cx="1281.3" cy="719.1" r="11.85"/>
<circle cx="1252.6" cy="779.9" r="11.85"/>
<circle cx="1252.6" cy="808.0" r="11.85"/>
<circle cx="1278.4" cy="819.9" r="11.85"/>
<circle cx="1195.2" cy="842.2" r="11.85"/>
<circle cx="1398.9" cy="693.0" r="11.85"/>
<circle cx="1413.8" cy="767.1" r="11.85"/>
<circle cx="1421.8" cy="837.4" r="11.85"/>
<circle cx="1355.9" cy="750.0" r="11.85"/>
<circle cx="1424.7" cy="693.0" r="11.85"/>
<circle cx="1424.7" cy="700.1" r="11.85"/>
<circle cx="1424.7" cy="710.1" r="11.85"/>
<circle cx="1424.7" cy="720.1" r="11.85"/>
<circle cx="1424.7" cy="743.8" r="11.85"/>
<circle cx="1424.7" cy="748.1" r="11.85"/>
<circle cx="1424.7" cy="693.0" r="11.85"/>
<circle cx="1424.7" cy="707.3" r="11.85"/>
</g>
<path d="M851.0,1106.3 L863.9,1096.5 L876.7,1086.6 L889.6,1076.8 L902.5,1066.9 L915.3,1056.9 L928.2,1047.0 L941.1,1037.0 L953.9,1027.0 L966.8,1017.0 L979.7,1006.9 L992.5,996.8 L1005.4,986.7 L1018.2,976.6 L1031.1,966.4 L1044.0,956.2 L1056.8,946.0 L1069.7,935.8 L1082.6,925.6 L1095.4,915.3 L1108.3,905.0 L1121.2,894.6 L1134.0,884.3 L1146.9,873.9 L1159.8,863.5 L1172.6,853.1 L1185.5,842.6 L1198.4,832.1 L1211.2,821.6 L1224.1,811.1 L1237.0,800.5 L1249.8,790.0 L1262.7,779.4 L1275.6,768.7 L1288.4,758.1 L1301.3,747.4 L1314.1,736.7 L1327.0,726.0 L1339.9,715.2 L1352.7,704.4 L1365.6,693.6 L1365.6,750.6 L1352.7,759.8 L1339.9,768.9 L1327.0,778.1 L1314.1,787.3 L1301.3,796.5 L1288.4,805.7 L1275.6,815.0 L1262.7,824.3 L1249.8,833.6 L1237.0,842.9 L1224.1,852.3 L1211.2,861.7 L1198.4,871.1 L1185.5,880.6 L1172.6,890.0 L1159.8,899.5 L1146.9,909.0 L1134.0,918.6 L1121.2,928.2 L1108.3,937.7 L1095.4,947.4 L1082.6,957.0 L1069.7,966.7 L1056.8,976.4 L1044.0,986.1 L1031.1,995.8 L1018.2,1005.6 L1005.4,1015.4 L992.5,1025.2 L979.7,1035.0 L966.8,1044.9 L953.9,1054.8 L941.1,1064.7 L928.2,1074.7 L915.3,1084.6 L902.5,1094.6 L889.6,1104.6 L876.7,1114.7 L863.9,1124.8 L851.0,1134.8Z" fill="#7E6148" fill-opacity="0.38"/>
<line x1="851.0" y1="1120.6" x2="1403.5" y2="692.8" stroke="#7E6148" stroke-opacity="0.85" stroke-width="7.3"/>
<line x1="793.6" y1="1215.6" x2="1482.1" y2="645.5" stroke="#000" stroke-width="11.5"/>
<rect x="851.0" y="930.5" width="286.8" height="237.5" fill="#C2C2C2" fill-opacity="0.38"/>
<rect x="1137.8" y="693.0" width="286.9" height="237.6" fill="#C2C2C2" fill-opacity="0.38"/>
</g>
<g font-size="30.6" fill="#1A1A1A" text-anchor="middle">
<text x="1298.3" y="997.5">PCC = 0.90</text>
<text x="1298.3" y="1032.6">CCC = 0.87</text>
<text x="1303.2" y="1108.0">Cluster Assignment</text>
<text x="1303.2" y="1145.4">Agreement = 0.89</text>
</g>
<rect x="823.2" y="670.5" width="629.0" height="521.0" fill="none" stroke="#333" stroke-width="2.6"/>
<line x1="851.0" x2="851.0" y1="1192.8" y2="1195.8" stroke="#333" stroke-width="3.8"/>
<line y1="1168.1" y2="1168.1" x1="818.9000000000001" x2="821.9000000000001" stroke="#333" stroke-width="3.8"/>
<line x1="994.4" x2="994.4" y1="1192.8" y2="1195.8" stroke="#333" stroke-width="3.8"/>
<line y1="1049.3" y2="1049.3" x1="818.9000000000001" x2="821.9000000000001" stroke="#333" stroke-width="3.8"/>
<line x1="1137.8" x2="1137.8" y1="1192.8" y2="1195.8" stroke="#333" stroke-width="3.8"/>
<line y1="930.5" y2="930.5" x1="818.9000000000001" x2="821.9000000000001" stroke="#333" stroke-width="3.8"/>
<line x1="1281.3" x2="1281.3" y1="1192.8" y2="1195.8" stroke="#333" stroke-width="3.8"/>
<line y1="811.8" y2="811.8" x1="818.9000000000001" x2="821.9000000000001" stroke="#333" stroke-width="3.8"/>
<line x1="1424.7" x2="1424.7" y1="1192.8" y2="1195.8" stroke="#333" stroke-width="3.8"/>
<line y1="693.0" y2="693.0" x1="818.9000000000001" x2="821.9000000000001" stroke="#333" stroke-width="3.8"/>
<g font-size="23.5" fill="#4D4D4D">
<text x="851.0" y="1214.7" text-anchor="middle">0.00</text>
<text x="816.2" y="1176.0" text-anchor="end">0.00</text>
<text x="994.4" y="1214.7" text-anchor="middle">0.25</text>
<text x="816.2" y="1057.2" text-anchor="end">0.25</text>
<text x="1137.8" y="1214.7" text-anchor="middle">0.50</text>
<text x="816.2" y="938.4" text-anchor="end">0.50</text>
<text x="1281.3" y="1214.7" text-anchor="middle">0.75</text>
<text x="816.2" y="819.7" text-anchor="end">0.75</text>
<text x="1424.7" y="1214.7" text-anchor="middle">1.00</text>
<text x="816.2" y="700.9" text-anchor="end">1.00</text>
</g>
<text x="778.5" y="650.5" font-size="61.5" font-weight="bold" fill="#231F20">e</text>
<g clip-path="url(#cpf)">
<line x1="1534.5" x2="2163.5" y1="1109.1" y2="1109.1" stroke="#EBEBEB" stroke-width="2.1"/>
<line y1="669.9" y2="1191.6" x1="1633.5" x2="1633.5" stroke="#EBEBEB" stroke-width="2.1"/>
<line x1="1534.5" x2="2163.5" y1="990.2" y2="990.2" stroke="#EBEBEB" stroke-width="2.1"/>
<line y1="669.9" y2="1191.6" x1="1777.0" x2="1777.0" stroke="#EBEBEB" stroke-width="2.1"/>
<line x1="1534.5" x2="2163.5" y1="871.3" y2="871.3" stroke="#EBEBEB" stroke-width="2.1"/>
<line y1="669.9" y2="1191.6" x1="1920.5" x2="1920.5" stroke="#EBEBEB" stroke-width="2.1"/>
<line x1="1534.5" x2="2163.5" y1="752.4" y2="752.4" stroke="#EBEBEB" stroke-width="2.1"/>
<line y1="669.9" y2="1191.6" x1="2064.0" x2="2064.0" stroke="#EBEBEB" stroke-width="2.1"/>
<line x1="1534.5" x2="2163.5" y1="1168.6" y2="1168.6" stroke="#EBEBEB" stroke-width="4.2"/>
<line y1="669.9" y2="1191.6" x1="1561.7" x2="1561.7" stroke="#EBEBEB" stroke-width="4.2"/>
<line x1="1534.5" x2="2163.5" y1="1049.7" y2="1049.7" stroke="#EBEBEB" stroke-width="4.2"/>
<line y1="669.9" y2="1191.6" x1="1705.2" x2="1705.2" stroke="#EBEBEB" stroke-width="4.2"/>
<line x1="1534.5" x2="2163.5" y1="930.8" y2="930.8" stroke="#EBEBEB" stroke-width="4.2"/>
<line y1="669.9" y2="1191.6" x1="1848.8" x2="1848.8" stroke="#EBEBEB" stroke-width="4.2"/>
<line x1="1534.5" x2="2163.5" y1="811.9" y2="811.9" stroke="#EBEBEB" stroke-width="4.2"/>
<line y1="669.9" y2="1191.6" x1="1992.3" x2="1992.3" stroke="#EBEBEB" stroke-width="4.2"/>
<line x1="1534.5" x2="2163.5" y1="693.0" y2="693.0" stroke="#EBEBEB" stroke-width="4.2"/>
<line y1="669.9" y2="1191.6" x1="2135.8" x2="2135.8" stroke="#EBEBEB" stroke-width="4.2"/>
<g fill="#E44A2A" fill-opacity="0.4" stroke="#E44A2A" stroke-opacity="0.240" stroke-width="1.2">
<circle cx="1566.9" cy="702.5" r="11.85"/>
<circle cx="1561.7" cy="732.0" r="11.85"/>
<circle cx="1561.7" cy="734.9" r="11.85"/>
<circle cx="1564.0" cy="762.9" r="11.85"/>
<circle cx="1572.0" cy="763.9" r="11.85"/>
<circle cx="1561.7" cy="791.9" r="11.85"/>
<circle cx="1561.7" cy="794.8" r="11.85"/>
<circle cx="1561.7" cy="792.9" r="11.85"/>
<circle cx="1577.8" cy="800.0" r="11.85"/>
<circle cx="1564.0" cy="825.7" r="11.85"/>
<circle cx="1564.0" cy="830.0" r="11.85"/>
<circle cx="1585.8" cy="823.3" r="11.85"/>
<circle cx="1580.6" cy="859.0" r="11.85"/>
<circle cx="1568.0" cy="872.8" r="11.85"/>
<circle cx="1566.9" cy="890.8" r="11.85"/>
<circle cx="1569.2" cy="909.9" r="11.85"/>
<circle cx="1561.7" cy="908.9" r="11.85"/>
<circle cx="1561.7" cy="918.0" r="11.85"/>
<circle cx="1561.7" cy="926.0" r="11.85"/>
<circle cx="1561.7" cy="952.2" r="11.85"/>
<circle cx="1561.7" cy="962.2" r="11.85"/>
<circle cx="1561.7" cy="989.3" r="11.85"/>
<circle cx="1561.7" cy="996.4" r="11.85"/>
<circle cx="1561.7" cy="992.6" r="11.85"/>
<circle cx="1570.3" cy="1023.5" r="11.85"/>
<circle cx="1577.2" cy="1048.3" r="11.85"/>
<circle cx="1563.4" cy="1063.0" r="11.85"/>
<circle cx="1561.7" cy="1068.7" r="11.85"/>
<circle cx="1561.7" cy="1089.2" r="11.85"/>
<circle cx="1561.7" cy="1114.4" r="11.85"/>
<circle cx="1561.7" cy="1124.4" r="11.85"/>
<circle cx="1561.7" cy="1133.4" r="11.85"/>
<circle cx="1561.7" cy="1142.4" r="11.85"/>
<circle cx="1562.5" cy="1176.7" r="11.85"/>
<circle cx="1561.9" cy="1174.4" r="11.85"/>
<circle cx="1562.1" cy="1172.1" r="11.85"/>
<circle cx="1562.9" cy="1169.8" r="11.85"/>
<circle cx="1562.1" cy="1167.5" r="11.85"/>
<circle cx="1562.3" cy="1165.2" r="11.85"/>
<circle cx="1563.3" cy="1162.9" r="11.85"/>
<circle cx="1562.7" cy="1160.6" r="11.85"/>
<circle cx="1562.4" cy="1158.4" r="11.85"/>
<circle cx="1562.8" cy="1156.1" r="11.85"/>
<circle cx="1561.8" cy="1153.8" r="11.85"/>
<circle cx="1562.6" cy="1151.5" r="11.85"/>
<circle cx="1817.2" cy="721.5" r="11.85"/>
<circle cx="1799.4" cy="1022.6" r="11.85"/>
<circle cx="2066.3" cy="692.0" r="11.85"/>
<circle cx="2043.9" cy="721.1" r="11.85"/>
<circle cx="1958.4" cy="769.1" r="11.85"/>
<circle cx="2114.6" cy="778.1" r="11.85"/>
<circle cx="2136.8" cy="743.9" r="11.85"/>
<circle cx="2136.2" cy="739.3" r="11.85"/>
<circle cx="2136.0" cy="734.6" r="11.85"/>
<circle cx="2137.9" cy="730.0" r="11.85"/>
<circle cx="2137.0" cy="725.4" r="11.85"/>
<circle cx="2136.3" cy="720.8" r="11.85"/>
<circle cx="2137.2" cy="716.1" r="11.85"/>
<circle cx="2137.7" cy="711.5" r="11.85"/>
<circle cx="2135.8" cy="706.9" r="11.85"/>
<circle cx="2135.8" cy="702.3" r="11.85"/>
<circle cx="2136.1" cy="697.6" r="11.85"/>
<circle cx="2137.5" cy="693.0" r="11.85"/>
<circle cx="2127.8" cy="695.9" r="11.85"/>
</g>
<path d="M1561.7,1074.9 L1574.4,1066.0 L1587.1,1057.1 L1599.8,1048.1 L1612.6,1039.1 L1625.3,1030.1 L1638.0,1021.1 L1650.7,1012.0 L1663.4,1002.8 L1676.1,993.7 L1688.9,984.5 L1701.6,975.3 L1714.3,966.0 L1727.0,956.8 L1739.7,947.4 L1752.4,938.1 L1765.2,928.7 L1777.9,919.3 L1790.6,909.9 L1803.3,900.4 L1816.0,890.9 L1828.7,881.3 L1841.5,871.8 L1854.2,862.2 L1866.9,852.5 L1879.6,842.9 L1892.3,833.1 L1905.0,823.4 L1917.8,813.6 L1930.5,803.8 L1943.2,794.0 L1955.9,784.2 L1968.6,774.3 L1981.3,764.3 L1994.1,754.4 L2006.8,744.4 L2019.5,734.3 L2032.2,724.3 L2044.9,714.2 L2057.6,704.1 L2070.4,693.9 L2070.4,794.7 L2057.6,802.0 L2044.9,809.2 L2032.2,816.5 L2019.5,823.8 L2006.8,831.1 L1994.1,838.5 L1981.3,845.9 L1968.6,853.3 L1955.9,860.8 L1943.2,868.3 L1930.5,875.8 L1917.8,883.4 L1905.0,890.9 L1892.3,898.6 L1879.6,906.2 L1866.9,913.9 L1854.2,921.6 L1841.5,929.4 L1828.7,937.2 L1816.0,945.0 L1803.3,952.9 L1790.6,960.7 L1777.9,968.7 L1765.2,976.6 L1752.4,984.6 L1739.7,992.6 L1727.0,1000.7 L1714.3,1008.7 L1701.6,1016.8 L1688.9,1025.0 L1676.1,1033.2 L1663.4,1041.4 L1650.7,1049.6 L1638.0,1057.9 L1625.3,1066.2 L1612.6,1074.5 L1599.8,1082.9 L1587.1,1091.3 L1574.4,1099.7 L1561.7,1108.2Z" fill="#E44A2A" fill-opacity="0.48"/>
<line x1="1561.7" y1="1091.6" x2="2124.3" y2="707.5" stroke="#E44A2A" stroke-opacity="0.85" stroke-width="7.3"/>
<line x1="1504.3" y1="1216.2" x2="2193.2" y2="645.4" stroke="#000" stroke-width="11.5"/>
<rect x="1561.7" y="930.8" width="287.0" height="237.8" fill="#C2C2C2" fill-opacity="0.38"/>
<rect x="1848.8" y="693.0" width="287.1" height="237.8" fill="#C2C2C2" fill-opacity="0.38"/>
</g>
<g font-size="30.6" fill="#1A1A1A" text-anchor="middle">
<text x="1997.0" y="996.3">PCC = 0.73</text>
<text x="1997.0" y="1031.9">CCC = 0.68</text>
<text x="1998.1" y="1107.4">Cluster Assignment</text>
<text x="1998.1" y="1144.8">Agreement = 0.86</text>
</g>
<rect x="1534.5" y="669.9" width="629.0" height="521.7" fill="none" stroke="#333" stroke-width="2.6"/>
<line x1="1561.7" x2="1561.7" y1="1192.8999999999999" y2="1195.8999999999999" stroke="#333" stroke-width="3.8"/>
<line y1="1168.6" y2="1168.6" x1="1530.2" x2="1533.2" stroke="#333" stroke-width="3.8"/>
<line x1="1705.2" x2="1705.2" y1="1192.8999999999999" y2="1195.8999999999999" stroke="#333" stroke-width="3.8"/>
<line y1="1049.7" y2="1049.7" x1="1530.2" x2="1533.2" stroke="#333" stroke-width="3.8"/>
<line x1="1848.8" x2="1848.8" y1="1192.8999999999999" y2="1195.8999999999999" stroke="#333" stroke-width="3.8"/>
<line y1="930.8" y2="930.8" x1="1530.2" x2="1533.2" stroke="#333" stroke-width="3.8"/>
<line x1="1992.3" x2="1992.3" y1="1192.8999999999999" y2="1195.8999999999999" stroke="#333" stroke-width="3.8"/>
<line y1="811.9" y2="811.9" x1="1530.2" x2="1533.2" stroke="#333" stroke-width="3.8"/>
<line x1="2135.8" x2="2135.8" y1="1192.8999999999999" y2="1195.8999999999999" stroke="#333" stroke-width="3.8"/>
<line y1="693.0" y2="693.0" x1="1530.2" x2="1533.2" stroke="#333" stroke-width="3.8"/>
<g font-size="23.5" fill="#4D4D4D">
<text x="1561.7" y="1214.8" text-anchor="middle">0.00</text>
<text x="1526.5" y="1176.5" text-anchor="end">0.00</text>
<text x="1705.2" y="1214.8" text-anchor="middle">0.25</text>
<text x="1526.5" y="1057.6" text-anchor="end">0.25</text>
<text x="1848.8" y="1214.8" text-anchor="middle">0.50</text>
<text x="1526.5" y="938.7" text-anchor="end">0.50</text>
<text x="1992.3" y="1214.8" text-anchor="middle">0.75</text>
<text x="1526.5" y="819.8" text-anchor="end">0.75</text>
<text x="2135.8" y="1214.8" text-anchor="middle">1.00</text>
<text x="1526.5" y="700.9" text-anchor="end">1.00</text>
</g>
<text x="1482.5" y="649.8" font-size="61.5" font-weight="bold" fill="#231F20">f</text>
<text transform="translate(20.3,532.5) rotate(-90)" font-size="26.6" font-weight="bold" fill="#1A1A1A">Derivation Cohort Bootstrapping</text>
<text transform="translate(57.1,587.6) rotate(-90)" font-size="26.9" fill="#1A1A1A">Mean Mixture Model Variant ICA Probabilities</text>
<text transform="translate(19.8,1109.5) rotate(-90)" font-size="26.6" font-weight="bold" fill="#1A1A1A">Validation Cohort Bootstrapping</text>
<text transform="translate(52.1,1204.6) rotate(-90)" font-size="26.9" fill="#1A1A1A">Mean Mixture Model Variant ICA Probabilities</text>
<text x="257.7" y="1254" font-size="27.0" fill="#1A1A1A">InflaMix ICA Probability</text>
<text x="997.6" y="1254" font-size="27.0" fill="#1A1A1A">InflaMix ICA Probability</text>
<text x="1742.9" y="1254" font-size="27.0" fill="#1A1A1A">InflaMix ICA Probability</text>
<rect x="300.09999999999997" y="1279.1000000000001" width="26.900000000000002" height="18.0" fill="#D2EAE2" stroke="#6DB3A0" stroke-width="3.4"/>
<line x1="299.4" x2="327.7" y1="1288.1000000000001" y2="1288.1000000000001" stroke="#3E9A80" stroke-width="2"/>
<rect x="312.2" y="1285.0" width="2.6" height="6" fill="#6B7D70"/>
<text x="347.0" y="1295" font-size="26.3" fill="#1A1A1A">No missing</text>
<rect x="961.9000000000001" y="1276.7" width="26.900000000000002" height="18.0" fill="#E5DDD6" stroke="#A58C77" stroke-width="3.4"/>
<line x1="961.2" x2="989.5" y1="1285.7" y2="1285.7" stroke="#8C735E" stroke-width="2"/>
<rect x="974.0" y="1282.6" width="2.6" height="6" fill="#8C7560"/>
<text x="1000.0" y="1292" font-size="26.3" fill="#1A1A1A"><tspan font-family="IPAGothic" font-size="28" dx="1.2" dy="1.4" stroke="#1A1A1A" stroke-width="0.7">≤</tspan><tspan dy="-1.4"> 7 simulated missing labs</tspan></text>
<rect x="1741.2" y="1275.7" width="26.900000000000002" height="18.0" fill="#F6D6CC" stroke="#E57F68" stroke-width="3.4"/>
<line x1="1740.5" x2="1768.8" y1="1284.7" y2="1284.7" stroke="#E0583F" stroke-width="2"/>
<rect x="1753.3" y="1281.6" width="2.6" height="6" fill="#C84A36"/>
<text x="1778.0" y="1294.7" font-size="26.3" fill="#1A1A1A">Limited 6-lab panel</text>
</svg></body></html>
